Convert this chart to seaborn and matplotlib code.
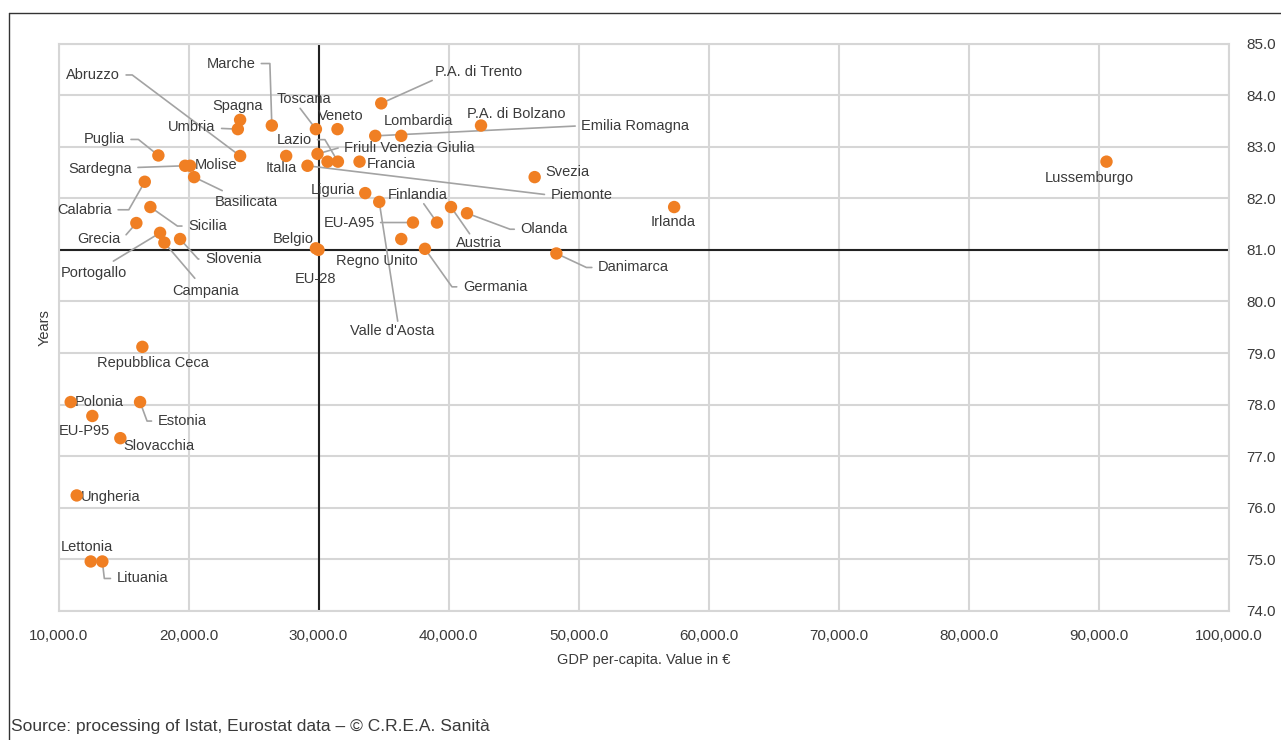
import math
import matplotlib
matplotlib.use('Agg')
import matplotlib.pyplot as plt
from matplotlib.lines import Line2D
from matplotlib.ticker import FuncFormatter
import pandas as pd
import seaborn as sns

sns.set_style('white')
plt.rcParams['font.family'] = ['Liberation Sans', 'DejaVu Sans']

# data: GDP per-capita (euro) and life expectancy (years)
names = ['Marche', 'Abruzzo', 'Spagna', 'Umbria', 'Puglia', 'Sardegna', 'Molise',
         'Basilicata', 'Calabria', 'Sicilia', 'Grecia', 'Portogallo', 'Campania',
         'Slovenia', 'Belgio', 'EU-28', 'Toscana', 'Veneto', 'Lazio',
         'Friuli Venezia Giulia', '', 'Italia', 'Piemonte', 'Francia', 'Lombardia',
         'Emilia Romagna', 'P.A. di Bolzano', 'P.A. di Trento', 'Svezia', 'Liguria',
         "Valle d'Aosta", 'Finlandia', 'EU-A95', 'Austria', 'Olanda', 'Regno Unito',
         'Germania', 'Danimarca', 'Irlanda', 'Lussemburgo', 'Repubblica Ceca',
         'Polonia', 'Estonia', 'EU-P95', 'Slovacchia', 'Ungheria', 'Lettonia', 'Lituania']
gdp = [26410, 23970, 23970, 23795, 17683, 19738, 20123,
       20431, 16636, 17067, 15989, 17813, 18145,
       19353, 29800, 30000, 29800, 31462, 31493,
       29923, 30692, 27513, 29153, 33156, 36366,
       34364, 42501, 34826, 46627, 33594,
       34672, 39114, 37266, 40192, 41423, 36366,
       38190, 48298, 57358, 90614, 16451,
       10939, 16274, 12602, 14757, 11401, 12479, 13372]
life = [83.41, 82.82, 83.52, 83.34, 82.83, 82.63, 82.63,
        82.41, 82.32, 81.83, 81.52, 81.33, 81.14,
        81.21, 81.03, 81.00, 83.34, 83.34, 82.71,
        82.86, 82.71, 82.82, 82.63, 82.71, 83.21,
        83.21, 83.41, 83.84, 82.41, 82.10,
        81.93, 81.53, 81.53, 81.83, 81.71, 81.21,
        81.02, 80.93, 81.83, 82.71, 79.12,
        78.05, 78.05, 77.78, 77.35, 76.24, 74.96, 74.96]

x_ticks = [10000, 20000, 30000, 40000, 50000, 60000, 70000, 80000, 90000, 100000]
y_ticks = [74, 75, 76, 77, 78, 79, 80, 81, 82, 83, 84, 85]
ref_gdp = 30000
ref_life = 81.0

# label placement in pixels relative to the dot (x right, y down)
# link: None, ('s', relx, rely) straight leader, ('a', corner_dx) elbow leader
label_pos = {
    'Marche': (-41, -62, ('a', -2)),
    'Abruzzo': (-147, -81, ('a', -108)),
    'Spagna': (-3, -14, None),
    'Umbria': (-46, -2, ('s', 0.5, 0.5)),
    'Puglia': (-54, -16, ('a', -20)),
    'Sardegna': (-85, 3, ('s', 0.5, 0.5)),
    'Molise': (26, -1, None),
    'Basilicata': (52, 25, ('s', 0.5, 0.5)),
    'Calabria': (-60, 28, ('a', -16)),
    'Sicilia': (57, 19, ('a', 27)),
    'Grecia': (-37, 16, ('a', -14)),
    'Portogallo': (-66, 40, ('s', 0.5, 0.5)),
    'Campania': (41, 48, ('s', 0.5, 0.5)),
    'Slovenia': (53, 20, ('a', 18)),
    'Belgio': (-23, -9, None),
    'EU-28': (-3, 29, None),
    'Toscana': (-12, -30, ('s', 0.4, 0)),
    'Veneto': (3, -13, None),
    'Lazio': (-44, -22, ('a', -13)),
    'Friuli Venezia Giulia': (92, -6, ('a', 21)),
    'Italia': (-5, 12, None),
    'Piemonte': (274, 29, ('a', 239)),
    'Francia': (32, 2, None),
    'Lombardia': (17, -15, None),
    'Emilia Romagna': (260, -10, ('a', 203)),
    'P.A. di Bolzano': (35, -12, None),
    'P.A. di Trento': (97, -31, ('s', 0, 0)),
    'Svezia': (33, -5, None),
    'Liguria': (-32, -3, None),
    "Valle d'Aosta": (13, 129, ('s', 0.57, 1)),
    'Finlandia': (-19, -28, ('s', 0.57, 0)),
    'EU-A95': (-64, 0, ('s', 0.5, 0.5)),
    'Austria': (28, 36, ('s', 0.33, 1)),
    'Olanda': (77, 16, ('a', 43)),
    'Regno Unito': (-24, 22, None),
    'Germania': (70, 38, ('a', 27)),
    'Danimarca': (77, 14, ('a', 30)),
    'Irlanda': (-1, 15, None),
    'Lussemburgo': (-17, 16, None),
    'Repubblica Ceca': (11, 16, None),
    'Polonia': (29, 0, None),
    'Estonia': (42, 19, ('a', 7)),
    'EU-P95': (-8, 15, None),
    'Slovacchia': (39, 8, None),
    'Ungheria': (34, 2, None),
    'Lettonia': (-4, -14, None),
    'Lituania': (40, 17, ('a', 2)),
}

text_col = '#3a3a3a'
grid_col = '#d6d6d6'
lead_col = '#a3a3a3'
dot_col = '#f07f23'

df = pd.DataFrame({'name': names, 'gdp': gdp, 'life': life})

fig = plt.figure(figsize=(12.81, 7.40), dpi=100)
ax = fig.add_axes([58.5 / 1281, 1 - 611 / 740, 1170 / 1281, 567.5 / 740])

ax.set_xlim(x_ticks[0], x_ticks[-1])
ax.set_ylim(y_ticks[0], y_ticks[-1])
ax.set_xticks(x_ticks)
ax.set_yticks(y_ticks)
ax.xaxis.set_major_formatter(FuncFormatter(lambda v, p: f'{v:,.1f}'))
ax.yaxis.set_major_formatter(FuncFormatter(lambda v, p: f'{v:.1f}'))
ax.yaxis.tick_right()
ax.tick_params(length=0, labelsize=11, colors=text_col, pad=13)
ax.grid(True, color=grid_col, lw=1.5, zorder=0)
ax.set_axisbelow(True)
for sp in ax.spines.values():
    sp.set_color(grid_col)
    sp.set_linewidth(1.5)

ax.axvline(ref_gdp, color='#222222', lw=1.5, zorder=2)
ax.axhline(ref_life, color='#222222', lw=1.5, zorder=2)

sns.scatterplot(data=df, x='gdp', y='life', color=dot_col, s=80,
                edgecolor='none', linewidth=0, zorder=5, ax=ax, legend=False)

for n, xv, yv in zip(names, gdp, life):
    if n not in label_pos:
        continue
    dx, dy, link = label_pos[n]
    kw = dict(xy=(xv, yv), xytext=(dx, -dy), textcoords='offset pixels',
              ha='center', va='center', fontsize=10.5, color=text_col, zorder=4)
    if link is not None:
        if link[0] == 'a':
            ang = math.degrees(math.atan2(-dy, link[1]))
            kw['arrowprops'] = dict(arrowstyle='-', color=lead_col, lw=1.2,
                                    connectionstyle=f'angle,angleA=0,angleB={ang:.1f},rad=0',
                                    shrinkA=2, shrinkB=0)
        else:
            ap = dict(arrowstyle='-', color=lead_col, lw=1.2,
                      relpos=(link[1], link[2]), shrinkA=2, shrinkB=0)
            if link[1:] != (0.5, 0.5):
                ap['patchA'] = None
            kw['arrowprops'] = ap
    ax.annotate(n, **kw)

ax.set_xlabel('GDP per-capita. Value in €', fontsize=10.5, color=text_col, labelpad=7)
ax.set_ylabel('Years', fontsize=10.5, color=text_col, labelpad=5)

# frame lines on top and left of the figure
fig.add_artist(Line2D([8.5 / 1281, 1], [1 - 12.5 / 740] * 2, color='#333333', lw=1))
fig.add_artist(Line2D([8.5 / 1281] * 2, [0, 1 - 12.5 / 740], color='#333333', lw=1))

fig.text(11 / 1281, 1 - 727 / 740, 'Source: processing of Istat, Eurostat data – © C.R.E.A. Sanità',
         fontsize=12.5, color=text_col, va='center', ha='left')

fig.savefig('out.png', dpi=100)
